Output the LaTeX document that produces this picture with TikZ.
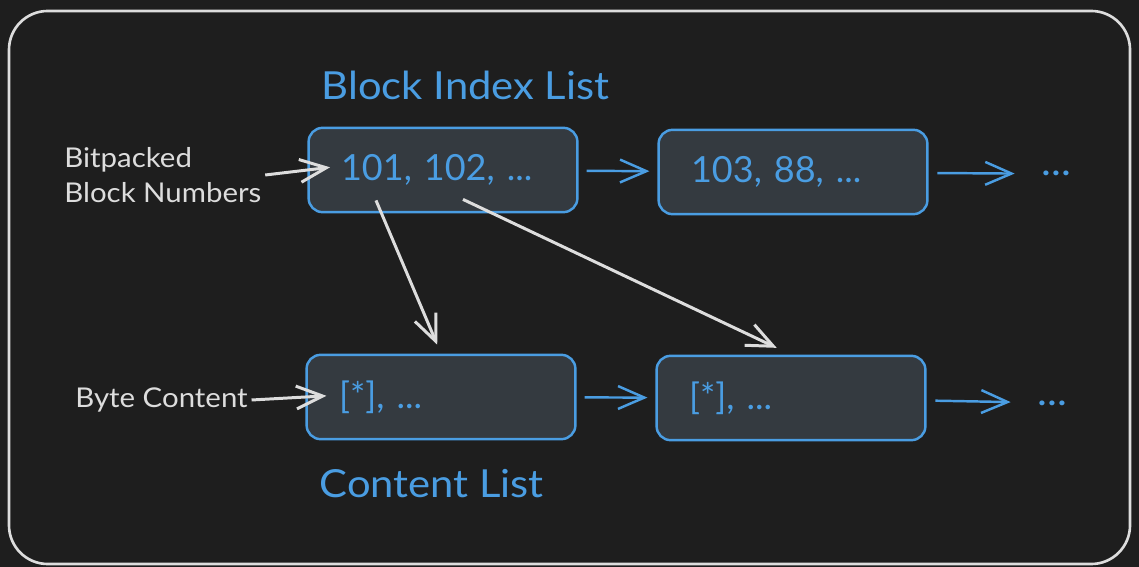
\documentclass[tikz,border=0pt]{standalone}
\usepackage{fontspec}
\setmainfont{Lato}[FakeStretch=1.08]
\newfontfamily\cellfont{Lato}
\usepackage{xcolor}
\usetikzlibrary{arrows.meta, positioning, calc}

\definecolor{bgdark}{HTML}{1E1E1E}
\definecolor{cellfill}{HTML}{343A40}
\definecolor{listblue}{HTML}{4A9DE2}
\definecolor{sketchgray}{HTML}{DDDDDD}

\begin{document}
\begin{tikzpicture}[x=0.02cm, y=-0.02cm,
  >={Straight Barb[length=15pt, width=13pt]},
  cell/.style={draw=listblue, fill=cellfill, line width=1.4pt, rounded corners=8pt,
    minimum height=48pt, text width=116pt, inner xsep=18.5pt, align=left,
    text=listblue, font=\cellfont\fontsize{20.5}{24}\selectfont},
  title/.style={text=listblue, inner sep=0pt, anchor=base west, font=\fontsize{22}{26}\selectfont},
  side/.style={text=sketchgray, align=left, inner sep=2pt, anchor=west,
    font=\fontsize{15.5}{19.8}\selectfont},
  bluearrow/.style={->, draw=listblue, line width=1.4pt},
  grayarrow/.style={->, draw=sketchgray, line width=1.7pt}]

% background and frame
\fill[bgdark] (0,0) rectangle (1139,567);
\useasboundingbox (0,0) rectangle (1139,567);
\draw[sketchgray, line width=1.5pt, rounded corners=22pt] (9,11) rectangle (1130,564);

% block index list
\node[cell] (idx1) at (443,170) {101, 102, ...};
\node[cell] (idx2) at (793,172) {103, 88, ...};
\node[title] (idxtitle) at ($(idx1.north west)+(14,-27)$) {Block Index List};
\node[title] (more1) at (1041,176) {...};

% content list
\node[cell] (cnt1) at (441,397) {[*], ...};
\node[cell] (cnt2) at (791,398) {[*], ...};
\node[title] (cnttitle) at ($(cnt1.south west)+(14,57)$) {Content List};
\node[title] (more2) at (1037,405) {...};

% inputs
\node[side] (bitlbl) at (60.5,175) {Bitpacked\\Block Numbers};
\node[side] (bytelbl) at (71.5,400) {Byte Content};
\draw[grayarrow, shorten >=-13pt] (bitlbl.east) -- (idx1.west);
\draw[grayarrow, shorten >=-12pt] (bytelbl.east) -- (cnt1.west);

% list links
\draw[bluearrow, shorten <=4.5pt, shorten >=4.5pt] (idx1) -- (idx2);
\draw[bluearrow, shorten <=5pt, shorten >=15pt] (idx2) -- (more1);
\draw[bluearrow, shorten <=4.5pt, shorten >=4.5pt] (cnt1) -- (cnt2);
\draw[bluearrow, shorten <=5pt, shorten >=15pt] (cnt2) -- (more2);

% block pointers
\coordinate (ptr1) at ($(idx1.south)+(-67,-13)$);
\coordinate (ptr2) at ($(idx1.south)+(20,-14)$);
\draw[grayarrow, shorten >=5.5pt] (ptr1) -- (cnt1.north);
\draw[grayarrow, shorten >=9pt] (ptr2) -- (cnt2.north);
\end{tikzpicture}
\end{document}
